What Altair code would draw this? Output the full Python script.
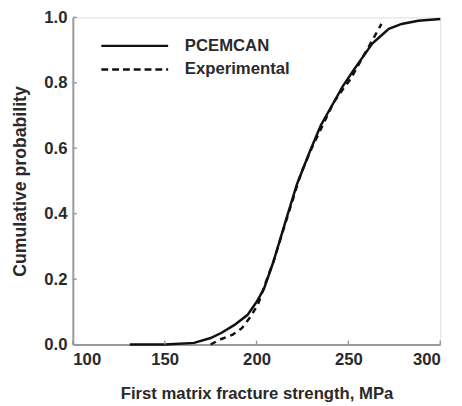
import altair as alt
import pandas as pd

# PCEMCAN (solid) curve
pce_x = [131, 150, 166, 175, 181, 188, 195, 200, 204, 209, 216, 222, 229, 235, 239, 247, 253, 258, 263, 267, 272, 279, 288, 300]
pce_y = [0.0, 0.0, 0.005, 0.02, 0.036, 0.06, 0.09, 0.13, 0.17, 0.25, 0.38, 0.49, 0.59, 0.67, 0.71, 0.79, 0.84, 0.88, 0.92, 0.94, 0.965, 0.98, 0.99, 0.995]

# Experimental (dashed) curve
exp_x = [175, 180, 187, 192, 197, 201, 205, 209, 214, 219, 224, 230, 236, 242, 247, 251, 255, 259, 264, 268]
exp_y = [0.0, 0.015, 0.03, 0.05, 0.087, 0.126, 0.19, 0.25, 0.34, 0.43, 0.52, 0.6, 0.67, 0.74, 0.78, 0.81, 0.85, 0.89, 0.94, 0.98]

x_ticks = [100, 150, 200, 250, 300]
y_ticks = [0.0, 0.2, 0.4, 0.6, 0.8, 1.0]
legend_labels = ["PCEMCAN", "Experimental"]

FONT = "Liberation Sans"
TXT = "#2a2a2a"
W, H = 374, 333

pce = pd.DataFrame({"x": pce_x, "y": pce_y})
exp = pd.DataFrame({"x": exp_x, "y": exp_y})

xscale = alt.Scale(domain=[100, 300], nice=False, zero=False)
yscale = alt.Scale(domain=[0, 1], nice=False)

xax = alt.Axis(values=x_ticks, format="d", ticks=False, grid=False, domainColor="#9a9a9a",
               domainWidth=2, labelFont=FONT, labelFontSize=17, labelFontWeight="bold",
               labelColor=TXT, labelPadding=7, title="First matrix fracture strength, MPa",
               titleFont=FONT, titleFontSize=17, titleFontWeight="bold", titleColor=TXT,
               titlePadding=19)
yax = alt.Axis(values=y_ticks, format=".1f", ticks=False, grid=False, domainColor="#9a9a9a",
               domainWidth=2, labelFont=FONT, labelFontSize=17, labelFontWeight="bold",
               labelColor=TXT, labelPadding=6, title="Cumulative probability",
               titleFont=FONT, titleFontSize=18, titleFontWeight="bold", titleColor=TXT,
               titlePadding=15)

solid = alt.Chart(pce).mark_line(color="#111", strokeWidth=2.5).encode(
    x=alt.X("x:Q", scale=xscale, axis=xax),
    y=alt.Y("y:Q", scale=yscale, axis=yax),
)
dashed = alt.Chart(exp).mark_line(color="#111", strokeWidth=2.5, strokeDash=[6, 5]).encode(
    x=alt.X("x:Q", scale=xscale),
    y=alt.Y("y:Q", scale=yscale),
)

xt = alt.Chart(pd.DataFrame({"v": x_ticks})).mark_rule(color="#9a9a9a", strokeWidth=1.5).encode(
    x=alt.X("v:Q", scale=xscale), y=alt.value(H), y2=alt.value(H - 4))
yt = alt.Chart(pd.DataFrame({"v": y_ticks})).mark_rule(color="#9a9a9a", strokeWidth=1.5).encode(
    y=alt.Y("v:Q", scale=yscale), x=alt.value(0), x2=alt.value(4))

leg_solid = alt.Chart(pd.DataFrame({"a": [0]})).mark_rule(color="#111", strokeWidth=2.5).encode(
    x=alt.value(29), x2=alt.value(97), y=alt.value(29))
leg_dash = alt.Chart(pd.DataFrame({"a": [0]})).mark_rule(color="#111", strokeWidth=2.5, strokeDash=[7, 4]).encode(
    x=alt.value(29), x2=alt.value(97), y=alt.value(53))
leg_text = alt.Chart(pd.DataFrame({"t": legend_labels, "yy": [29, 53]})).mark_text(
    align="left", baseline="middle", font=FONT, fontSize=17, fontWeight="bold", color=TXT).encode(
    x=alt.value(114), y=alt.Y("yy:Q", scale=None), text="t:N")

chart = alt.layer(solid, dashed, xt, yt, leg_solid, leg_dash, leg_text).properties(
    width=W, height=H,
    autosize=alt.AutoSizeParams(type="none"),
    padding={"left": 66, "top": 6, "right": 14, "bottom": 59},
).configure_view(stroke=None).configure(background="white")

chart.save("out.html", embed_options={"renderer": "svg", "actions": False})
